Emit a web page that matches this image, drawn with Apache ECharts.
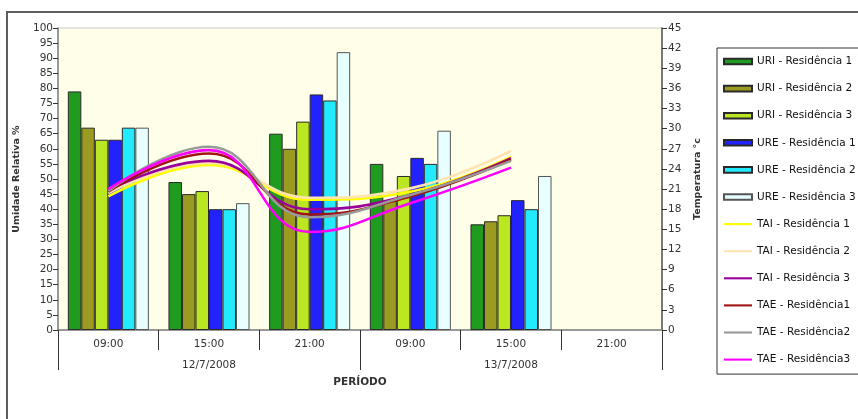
<!DOCTYPE html>
<html><head><meta charset="utf-8">
<script src="https://cdn.jsdelivr.net/npm/echarts@6/dist/echarts.min.js"></script>
<style>html,body{margin:0;padding:0;background:#fff}#c{width:858px;height:419px}</style>
</head><body><div id="c"></div>
<script>
var categories = ['09:00','15:00','21:00','09:00','15:00','21:00'];
var dates = ['12/7/2008','13/7/2008'];
var leftTicks = [0,100,5];
var rightTicks = [0,45,3];

var uri1 = [79,49,65,55,35,null];
var uri2 = [67,45,60,43,36,null];
var uri3 = [63,46,69,51,38,null];
var ure1 = [63,40,78,57,43,null];
var ure2 = [67,40,76,55,40,null];
var ure3 = [67,42,92,66,51,null];

var tai1 = [19.9,24.6,19.4,20.6,25.8,null];
var tai2 = [20.4,24.9,19.7,21.1,26.7,null];
var tai3 = [20.8,25.2,18.0,20.1,25.6,null];
var tae1 = [20.6,26.3,17.2,19.9,25.4,null];
var tae2 = [20.7,27.3,16.8,20.1,25.2,null];
var tae3 = [21.0,26.8,14.6,18.9,24.2,null];

var barNames = ['URI - Residência 1','URI - Residência 2','URI - Residência 3','URE - Residência 1','URE - Residência 2','URE - Residência 3'];
var barData = [uri1,uri2,uri3,ure1,ure2,ure3];
var barColors = ['#1f9b1f','#9b9b21','#bae622','#2222ff','#22eaff','#e8ffff'];
var lineNames = ['TAI - Residência 1','TAI - Residência 2','TAI - Residência 3','TAE - Residência1','TAE - Residência2','TAE - Residência3'];
var lineData = [tai1,tai2,tai3,tae1,tae2,tae3];
var lineColors = ['#ffff00','#ffe3b0','#990099','#a01414','#999999','#ff00ff'];

var series = [];
var legendData = [];
barNames.forEach(function(n,i){
  series.push({name:n,type:'bar',xAxisIndex:0,yAxisIndex:0,data:barData[i],
    barGap:'0%',barCategoryGap:'19.5%',
    itemStyle:{color:barColors[i],borderColor:i===5?'#555':'#2a2a2a',borderWidth:1}});
  legendData.push({name:n,icon:'path://M0,0H40V8H0Z'});
});
lineNames.forEach(function(n,i){
  series.push({name:n,type:'line',xAxisIndex:0,yAxisIndex:1,data:lineData[i],
    smooth:0.45,showSymbol:false,symbol:'none',
    lineStyle:{color:lineColors[i],width:2.6},itemStyle:{color:lineColors[i]}});
  legendData.push({name:n,icon:'path://M0,0H40V3H0Z'});
});

var txt = '#333';
var ff = '"DejaVu Sans", sans-serif';
var fs = 10.5;
var chart = echarts.init(document.getElementById('c'));
chart.setOption({
  animation:false,
  textStyle:{fontFamily:ff},
  graphic:[{type:'rect',shape:{x:7,y:12,width:900,height:500},style:{fill:'none',stroke:'#5e5e5e',lineWidth:2},z:-10}],
  grid:{left:58,right:196,top:28,bottom:89,show:true,backgroundColor:'#ffffe9',borderColor:'#c8c8c8',borderWidth:1},
  legend:{orient:'vertical',left:717,top:48,padding:[8,30,9,6],itemWidth:28,itemHeight:11,itemGap:16.1,
    borderColor:'#333',borderWidth:1,backgroundColor:'#fff',data:legendData,
    textStyle:{fontSize:fs,color:'#111',fontFamily:ff}},
  xAxis:[
    {type:'category',data:categories,position:'bottom',
      axisLine:{lineStyle:{color:'#808080',width:1.5}},
      axisTick:{show:true,length:20,interval:0,lineStyle:{color:'#333',width:1}},
      axisLabel:{margin:9,fontSize:fs,color:txt,interval:0}},
    {type:'category',data:dates,position:'bottom',
      axisLine:{show:false},
      axisTick:{show:true,length:40,interval:0,lineStyle:{color:'#333',width:1}},
      axisLabel:{margin:30,fontSize:fs,color:txt},
      name:'PERÍODO',nameLocation:'middle',nameGap:47,
      nameTextStyle:{fontSize:10.5,fontWeight:'bold',color:txt}}
  ],
  yAxis:[
    {type:'value',min:leftTicks[0],max:leftTicks[1],interval:leftTicks[2],position:'left',
      splitLine:{show:false},
      axisLine:{show:true,lineStyle:{color:'#808080',width:1.5}},
      axisTick:{show:true,length:5,lineStyle:{color:'#333'}},
      axisLabel:{fontSize:fs,color:txt,margin:5},
      name:'Umidade Relativa %',nameLocation:'middle',nameGap:36,nameRotate:90,
      nameTextStyle:{fontSize:9.5,fontWeight:'bold',color:txt}},
    {type:'value',min:rightTicks[0],max:rightTicks[1],interval:rightTicks[2],position:'right',
      splitLine:{show:false},
      axisLine:{show:true,lineStyle:{color:'#555',width:1.5}},
      axisTick:{show:true,length:5,lineStyle:{color:'#333'}},
      axisLabel:{fontSize:fs,color:txt,margin:6},
      name:'Temperatura °c',nameLocation:'middle',nameGap:30,nameRotate:90,
      nameTextStyle:{fontSize:9.5,fontWeight:'bold',color:txt}}
  ],
  series:series
});
</script></body></html>
